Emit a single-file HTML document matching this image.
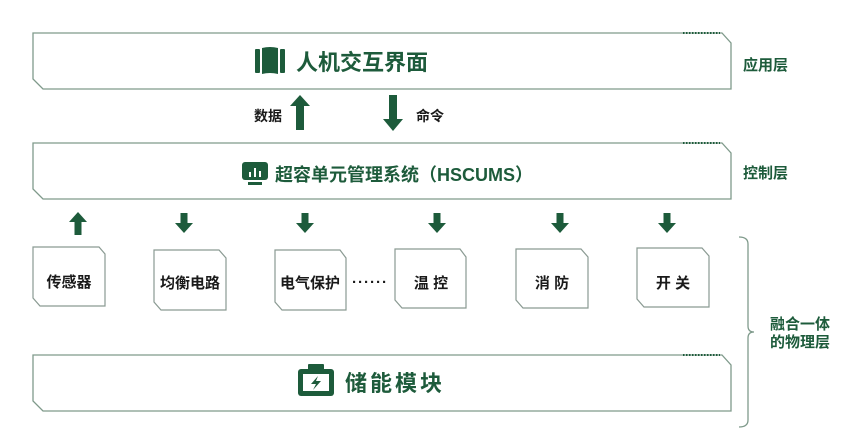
<!DOCTYPE html>
<html><head><meta charset="utf-8"><style>
body{margin:0;background:#fff;}
svg{display:block;font-family:"Liberation Sans","Noto Sans CJK SC",sans-serif;}
</style></head><body>
<svg width="845" height="429" viewBox="0 0 845 429" xmlns="http://www.w3.org/2000/svg">
<defs>
<g id="dn"><rect x="-3.5" y="-12" width="7" height="11" fill="#1d5b3b"/><polygon points="-9,-2 9,-2 0,8" fill="#1d5b3b"/></g>
</defs>
<g fill="#fff" stroke="#7f9a8b" stroke-width="1.3">
<polygon points="33,33 722,33 731,43 731,89 43,89 33,79"/>
<polygon points="33,143 722,143 731,153 731,199 43,199 33,189"/>
<polygon points="33,355 722,355 731,365 731,411 43,411 33,401"/>
</g>
<g stroke="#1d5b3b" stroke-width="2" stroke-dasharray="1.5 1.5">
<line x1="683" y1="33" x2="720" y2="33"/><line x1="683" y1="143" x2="720" y2="143"/><line x1="683" y1="355" x2="720" y2="355"/>
</g>
<g fill="#fff" stroke="#8a9a92" stroke-width="1.2">
<polygon points="33,247 99,247 105,254 105,306 40,306 33,298"/>
<polygon points="154,250 219,250 226,258 226,310 161,310 154,302"/>
<polygon points="275,250 340,250 346,258 346,310 282,310 275,302"/>
<polygon points="395,249 460,249 466,257 466,308 402,308 395,300"/>
<polygon points="516,249 581,249 588,257 588,308 523,308 516,300"/>
<polygon points="637,248 702,248 709,256 709,307 644,307 637,299"/>
</g>
<g font-size="15" font-weight="bold" fill="#1a1a1a" text-anchor="middle">
<text x="69" y="287">传感器</text>
<text x="190" y="288">均衡电路</text>
<text x="310" y="288">电气保护</text>
<text x="431" y="288">温 控</text>
<text x="552" y="288">消 防</text>
<text x="673" y="288">开 关</text>
<text x="370" y="287" letter-spacing="1">······</text>
<text x="268" y="121" font-size="14">数据</text>
<text x="430" y="121" font-size="14">命令</text>
</g>
<g fill="#1d5b3b">
<rect x="296" y="104" width="8" height="26"/><polygon points="290,106 310,106 300,95"/>
<rect x="389" y="95" width="8" height="26"/><polygon points="383,119 403,119 393,131"/>
<rect x="74.5" y="220" width="7" height="15"/><polygon points="69,222 87,222 78,212"/>
</g>
<use href="#dn" x="184" y="225"/><use href="#dn" x="305" y="225"/><use href="#dn" x="437" y="225"/><use href="#dn" x="560" y="225"/><use href="#dn" x="667" y="225"/>
<g fill="#1d5b3b">
<rect x="255" y="49" width="5" height="24" rx="1"/><path d="M262 48 Q270 46 278 48 L278 74 Q270 72 262 74Z"/><rect x="280" y="49" width="5" height="24" rx="1"/>
<rect x="242" y="162" width="26" height="18" rx="3"/><rect x="248" y="182" width="14" height="3"/>
<rect x="298" y="369" width="36" height="27" rx="3"/><rect x="308" y="364" width="16" height="6" rx="1"/>
</g>
<g fill="#fff"><rect x="249" y="172" width="2" height="5"/><rect x="254" y="168" width="2" height="9"/><rect x="259" y="171" width="2" height="6"/>
<rect x="303" y="374" width="26" height="17"/></g>
<polygon points="318,376 311,384 316,384 313,390 321,381 316,381" fill="#1d5b3b"/>
<g fill="#1d5b3b" font-weight="bold">
<text x="296" y="70" font-size="22">人机交互界面</text>
<text x="275" y="181" font-size="18">超容单元管理系统（HSCUMS）</text>
<text x="345" y="391" font-size="22" letter-spacing="3">储能模块</text>
<g font-size="15"><text x="743" y="70">应用层</text><text x="743" y="178">控制层</text><text x="770" y="329">融合一体</text><text x="770" y="347">的物理层</text></g>
</g>
<path d="M739 237 Q748 237 748 244 L748 326 Q748 332 754 332 Q748 332 748 338 L748 420 Q748 427 739 427" fill="none" stroke="#7f9a8b" stroke-width="1.3"/>
</svg>
</body></html>
